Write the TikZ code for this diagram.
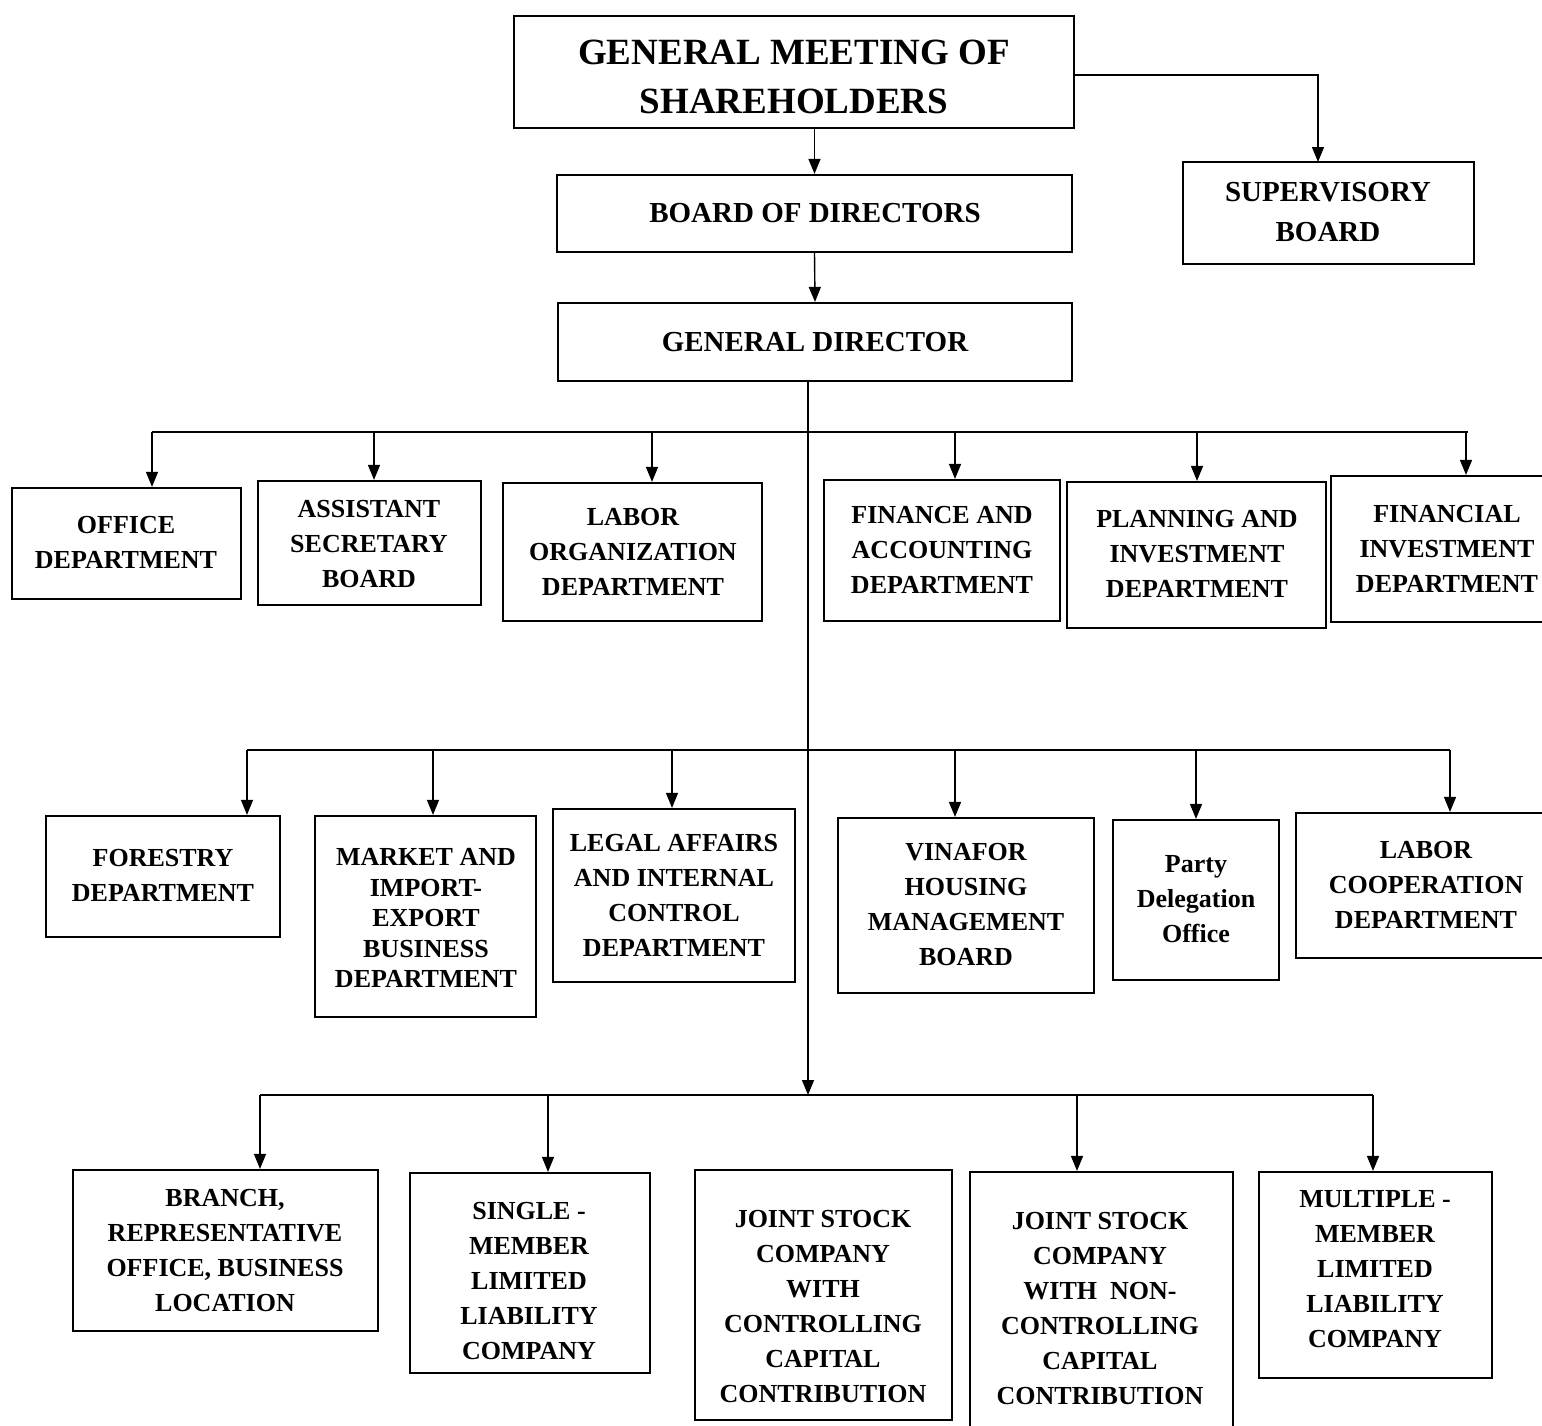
\documentclass[tikz,border=0pt]{standalone}
\usepackage{fontspec}
\setmainfont{Liberation Serif}
\usetikzlibrary{arrows.meta}
\tikzset{
  box/.style={draw, line width=2.2pt, inner sep=0pt},
  txt/.style={align=center, inner sep=0pt, font=\fontsize{26}{35}\selectfont\bfseries},
  bigtxt/.style={align=center, inner sep=0pt, font=\fontsize{37}{49}\selectfont\bfseries},
  midtxt/.style={align=center, inner sep=0pt, font=\fontsize{29}{40}\selectfont\bfseries},
  bar/.style={line width=1.2pt},
  arr/.style={line width=1.4pt, -{Triangle[width=12pt,length=15pt]}},
}
\newcommand\mybox[5]{\node[box, minimum width=#4pt, minimum height=#5pt] (#1) at (#2,#3) {};}
\begin{document}
\begin{tikzpicture}[x=1pt,y=-1pt]
\useasboundingbox (0,0) rectangle (1542,1425);
% top level
\mybox{gms}{794}{72}{560}{112}
\node[bigtxt] (gmst) at (794,76.5) {GENERAL MEETING OF\\SHAREHOLDERS};
\mybox{bod}{814.5}{213.5}{515}{77}
\node[midtxt] (bodt) at (815,213) {BOARD OF DIRECTORS};
\mybox{sup}{1328.5}{213}{291}{102}
\node[midtxt] (supt) at (1328,212) {SUPERVISORY\\BOARD};
\mybox{gd}{815}{342}{514}{78}
\node[midtxt] (gdt) at (815,342) {GENERAL DIRECTOR};
\coordinate (supin) at (1318,162);
\draw[arr] ([yshift=-3pt]gms.east) -| (supin);
\draw[arr] (gms.south -| bod.north) -- (bod.north);
\draw[arr] (bod.south) -- (gd.north);
% row 1
\mybox{off}{126.5}{543.5}{229}{111}
\node[txt] (offt) at (126,542.5) {OFFICE\\DEPARTMENT};
\mybox{asst}{369.5}{543}{223}{124}
\node[txt] (asstt) at (369,544) {ASSISTANT\\SECRETARY\\BOARD};
\mybox{lab}{632.5}{552}{259}{138}
\node[txt] (labt) at (633,551.5) {LABOR\\ORGANIZATION\\DEPARTMENT};
\mybox{fin}{942}{550.5}{236}{141}
\node[txt] (fint) at (942,549.5) {FINANCE AND\\ACCOUNTING\\DEPARTMENT};
\mybox{plan}{1196.5}{555}{259}{146}
\node[txt] (plant) at (1197,553.5) {PLANNING AND\\INVESTMENT\\DEPARTMENT};
\mybox{finv}{1445.5}{549}{229}{146}
\node[txt] (finvt) at (1447,548.5) {FINANCIAL\\INVESTMENT\\DEPARTMENT};
% row 2
\mybox{forest}{163}{876.5}{234}{121}
\node[txt] (forestt) at (163,875.5) {FORESTRY\\DEPARTMENT};
\mybox{mkt}{425.5}{916.5}{221}{201}
\node[txt, font=\fontsize{26}{30.5}\selectfont\bfseries] (mktt) at (426,918) {MARKET AND\\IMPORT-\\EXPORT\\BUSINESS\\DEPARTMENT};
\mybox{legal}{674}{895.5}{242}{173}
\node[txt] (legalt) at (674,895.5) {LEGAL AFFAIRS\\AND INTERNAL\\CONTROL\\DEPARTMENT};
\mybox{vin}{966}{905.5}{256}{175}
\node[txt] (vint) at (966,904.5) {VINAFOR\\HOUSING\\MANAGEMENT\\BOARD};
\mybox{party}{1196}{900}{166}{160}
\node[txt] (partyt) at (1196,899) {Party\\Delegation\\Office};
\mybox{lcoop}{1428}{885.5}{264}{145}
\node[txt] (lcoopt) at (1426,885) {LABOR\\COOPERATION\\DEPARTMENT};
% row 3
\mybox{branch}{225.5}{1250.5}{305}{161}
\node[txt] (brancht) at (225,1250.5) {BRANCH,\\REPRESENTATIVE\\OFFICE, BUSINESS\\LOCATION};
\mybox{single}{530}{1273}{240}{200}
\node[txt] (singlet) at (529,1280.5) {SINGLE -\\MEMBER\\LIMITED\\LIABILITY\\COMPANY};
\mybox{jsca}{823.5}{1295}{257}{250}
\node[txt] (jscat) at (823,1306.5) {JOINT STOCK\\COMPANY\\WITH\\CONTROLLING\\CAPITAL\\CONTRIBUTION};
\mybox{jscb}{1101.5}{1306}{263}{268}
\node[txt] (jscbt) at (1100,1308.5) {JOINT STOCK\\COMPANY\\WITH\ \ NON-\\CONTROLLING\\CAPITAL\\CONTRIBUTION};
\mybox{multi}{1375.5}{1275}{233}{206}
\node[txt] (multit) at (1375,1269.5) {MULTIPLE -\\MEMBER\\LIMITED\\LIABILITY\\COMPANY};
% bars
\coordinate (r1a) at (152,432); \coordinate (r1b) at (1468,432);
\coordinate (r2a) at (247,750); \coordinate (r2b) at (1450,750);
\coordinate (r3a) at (260,1095); \coordinate (r3b) at (1373,1095);
\coordinate (trunk) at (808,1095);
\draw[bar] (r1a) -- (r1b);
\draw[bar] (r2a) -- (r2b);
\draw[bar] (r3a) -- (r3b);
\draw[arr] (gd.south -| trunk) -- (trunk);
% row 1 arrows
\foreach \xx/\nn in {152/off, 374/asst, 652/lab, 955/fin, 1197/plan, 1466/finv}
  \draw[arr] (\xx,432) -- (\xx,432 |- \nn.north);
% row 2 arrows
\foreach \xx/\nn in {247/forest, 433/mkt, 672/legal, 955/vin, 1196/party, 1450/lcoop}
  \draw[arr] (\xx,750) -- (\xx,750 |- \nn.north);
% row 3 arrows
\foreach \xx/\nn in {260/branch, 548/single, 1077/jscb, 1373/multi}
  \draw[arr] (\xx,1095) -- (\xx,1095 |- \nn.north);
\end{tikzpicture}
\end{document}
